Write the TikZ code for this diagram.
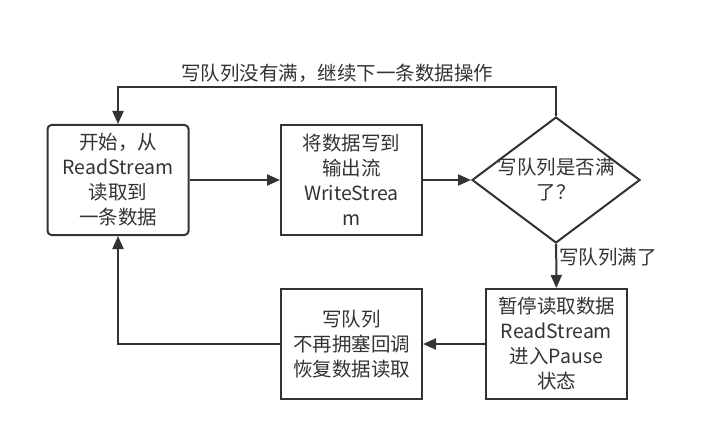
\documentclass[tikz,border=0pt]{standalone}
\usepackage{fontspec}
\setmainfont{Noto Sans CJK SC}
\usetikzlibrary{arrows.meta,positioning,shapes.geometric}
\definecolor{linegray}{HTML}{333333}

\begin{document}
\begin{tikzpicture}[
  x=1pt, y=-1pt,
  font=\fontsize{19.5}{25}\selectfont,
  stepbox/.style={draw=linegray, line width=2pt, minimum width=141pt,
    minimum height=110pt, align=center, inner sep=1pt, text=linegray},
  startbox/.style={stepbox, rounded corners=4pt},
  decision/.style={draw=linegray, line width=2pt, diamond, shape aspect=1.333,
    minimum width=168pt, minimum height=126pt, align=center,
    inner xsep=-19pt, inner ysep=-16pt, text=linegray},
  arr/.style={-{Triangle[length=13pt,width=11pt]}, line width=2pt, draw=linegray},
  edgelabel/.style={text=linegray, inner sep=2pt},
]
\useasboundingbox (0,0) rectangle (703,430);

% Top row
\node[startbox] (start)  at (118,180)   {开始，从\\ReadStream\\读取到\\一条数据};
\node[stepbox]  (write)  at (351.5,180) {将数据写到\\输出流\\WriteStrea\\m};
\node[decision] (full)   at (556,180)   {写队列是否满\\了？};

% Bottom row
\node[stepbox]  (pause)  at (556.5,344) {暂停读取数据\\ReadStream\\进入Pause\\状态};
\node[stepbox]  (resume) at (351.5,344) {写队列\\不再拥塞回调\\恢复数据读取};

% Main flow
\draw[arr] (start) -- (write);
\draw[arr] (write) -- (full);
\draw[arr] (full) -- (pause)
  node[edgelabel, pos=0.3, right] {写队列满了};
\draw[arr] (pause) -- (resume);
\draw[arr] (resume.west) -| (start.south);

% Loop back when queue not full
\coordinate (looptop) at (337,87);
\draw[arr] (full.north) |- (looptop) -| (start.north);
\node[edgelabel, above=2pt] at (looptop) {写队列没有满，继续下一条数据操作};
\end{tikzpicture}
\end{document}
